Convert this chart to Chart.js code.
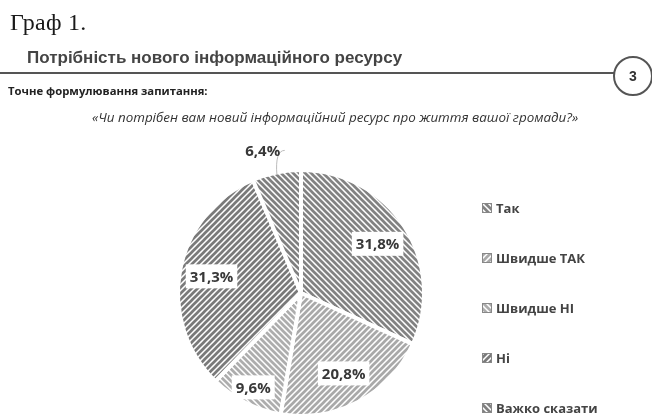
<!DOCTYPE html>
<html>
<head>
<meta charset="utf-8">
<script src="https://cdn.jsdelivr.net/npm/chart.js@4"></script>
<style>
  html,body{margin:0;padding:0;background:#fff;width:652px;height:418px;overflow:hidden;}
  #wrap{position:relative;width:652px;height:418px;}
  canvas{position:absolute;left:0;top:0;}
  .t{position:absolute;white-space:nowrap;}
  #graf{left:10px;top:9px;font-family:"Liberation Serif",serif;font-size:24px;color:#1a1a1a;font-weight:normal;letter-spacing:0.3px;}
  #head{left:27px;top:48px;font-family:"Liberation Sans",Arial,sans-serif;font-size:17px;font-weight:bold;color:#444;}
  #line{position:absolute;left:0;top:72px;width:614px;height:2px;background:#555;}
  #circ{position:absolute;left:613px;top:56px;width:40px;height:40px;border:2px solid #555;border-radius:50%;box-sizing:border-box;
        font-family:"Liberation Sans",Arial,sans-serif;font-weight:bold;font-size:14px;color:#333;text-align:center;line-height:36px;}
  #q1{left:8px;top:83px;font-family:"Open Sans",sans-serif;font-size:11.3px;font-weight:bold;color:#222;}
  #q2{left:92px;top:108px;font-family:"Open Sans",sans-serif;font-size:13.4px;font-style:italic;color:#333;}
</style>
</head>
<body>
<div id="wrap">
  <canvas id="c" width="652" height="418"></canvas>
  <div class="t" id="graf">Граф 1.</div>
  <div class="t" id="head">Потрібність нового інформаційного ресурсу</div>
  <div id="line"></div>
  <div id="circ">3</div>
  <div class="t" id="q1">Точне формулювання запитання:</div>
  <div class="t" id="q2">«Чи потрібен вам новий інформаційний ресурс про життя вашої громади?»</div>
</div>
<script>
const categories = ["Так", "Швидше ТАК", "Швидше НІ", "Ні", "Важко сказати"];
const values = [31.8, 20.8, 9.6, 31.3, 6.4];
const valueLabels = ["31,8%", "20,8%", "9,6%", "31,3%", "6,4%"];

const stripeDir = ["\\", "/", "\\", "/", "\\"];
const stripeColor = ["#828282", "#a9a9a9", "#adadad", "#7a7a7a", "#808080"];

function makePattern(dir, color){
  const s = 6;
  const cv = document.createElement("canvas");
  cv.width = s; cv.height = s;
  const x = cv.getContext("2d");
  x.fillStyle = "#fff"; x.fillRect(0,0,s,s);
  x.strokeStyle = color; x.lineWidth = 2.7; x.lineCap = "square";
  x.beginPath();
  if (dir === "\\"){
    x.moveTo(-s,0); x.lineTo(s*2,s*3);
    x.moveTo(0,-s); x.lineTo(s*2,s);
    x.moveTo(-s,-s); x.lineTo(s*2,s*2);
    x.moveTo(-s*2,-s); x.lineTo(s,s*2);
  } else {
    x.moveTo(-s,s*2); x.lineTo(s*2,-s);
    x.moveTo(-s,s); x.lineTo(s,-s);
    x.moveTo(0,s*2); x.lineTo(s*2,0);
  }
  x.stroke();
  return x.createPattern(cv, "repeat");
}
const patterns = stripeDir.map((d,i)=>makePattern(d, stripeColor[i]));

const labelPlugin = {
  id: "labels",
  afterDatasetsDraw(chart){
    const ctx = chart.ctx;
    const meta = chart.getDatasetMeta(0);
    ctx.save();
    ctx.font = "bold 15px 'Open Sans', sans-serif";
    ctx.textAlign = "center"; ctx.textBaseline = "middle";
    meta.data.forEach((arc, i) => {
      const mid = (arc.startAngle + arc.endAngle) / 2;
      const R = arc.outerRadius;
      const small = values[i] < 8;
      const f = small ? 1.15 : (values[i] < 12 ? 0.86 : 0.74);
      let x = arc.x + Math.cos(mid) * R * f;
      let y = arc.y + Math.sin(mid) * R * f;
      if (small){
        x -= 10; y -= 4;
        ctx.strokeStyle = "#bbb"; ctx.lineWidth = 1;
        ctx.beginPath();
        const ex = arc.x + Math.cos(mid) * R * 0.98, ey = arc.y + Math.sin(mid) * R * 0.98;
        ctx.moveTo(x + 22, y);
        ctx.quadraticCurveTo(ex - 2, y, ex, ey);
        ctx.stroke();
      }
      const w = ctx.measureText(valueLabels[i]).width + 8;
      if (!small){
        ctx.fillStyle = "#fff";
        ctx.fillRect(x - w/2, y - 12, w, 24);
      }
      ctx.fillStyle = "#383838";
      ctx.fillText(valueLabels[i], x, y + 1);
    });
    ctx.restore();
  }
};

const legendPlugin = {
  id: "customLegend",
  afterDraw(chart){
    const ctx = chart.ctx;
    ctx.save();
    ctx.font = "bold 13px 'Open Sans', sans-serif";
    ctx.textBaseline = "middle";
    chart.data.labels.forEach((lab, i) => {
      const y = 208 + i * 50;
      const x = 482;
      ctx.fillStyle = "#fff";
      ctx.fillRect(x, y - 5, 10, 10);
      ctx.fillStyle = patterns[i];
      ctx.fillRect(x, y - 5, 10, 10);
      ctx.strokeStyle = "#888"; ctx.lineWidth = 1;
      ctx.strokeRect(x + 0.5, y - 4.5, 9, 9);
      ctx.fillStyle = "#444";
      ctx.fillText(lab, x + 14, y + 1);
    });
    ctx.restore();
  }
};

new Chart(document.getElementById("c"), {
  type: "pie",
  data: {
    labels: categories,
    datasets: [{
      data: values,
      backgroundColor: patterns,
      borderColor: "#fff",
      borderWidth: 4,
      hoverOffset: 0
    }]
  },
  options: {
    responsive: false,
    animation: false,
    events: [],
    layout: { padding: { left: 176, right: 226, top: 168, bottom: 0 } },
    plugins: { legend: { display: false }, tooltip: { enabled: false } }
  },
  plugins: [labelPlugin, legendPlugin]
});
</script>
</body>
</html>
